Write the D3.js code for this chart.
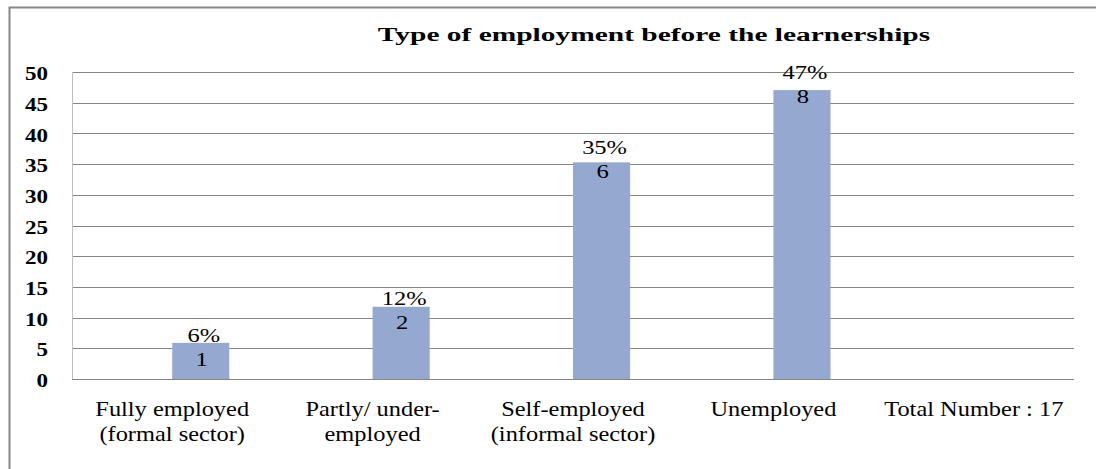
<!DOCTYPE html>
<html>
<head>
<meta charset="utf-8">
<script src="https://cdn.jsdelivr.net/npm/d3@7"></script>
<style>
  body { margin: 0; background: #fff; }
</style>
</head>
<body>
<div class="canva"></div>
<script>
// data
const categories = ["Fully employed\n(formal sector)", "Partly/ under-\nemployed", "Self-employed\n(informal sector)", "Unemployed", "Total Number : 17"];
const percentages = [5.88, 11.76, 35.29, 47.06, null];
const counts = [1, 2, 6, 8, null];
const yTickValues = [0, 5, 10, 15, 20, 25, 30, 35, 40, 45, 50];
const title = "Type of employment before the learnerships";

const width = 1096, height = 469;
const margin = {top: 72, right: 22, bottom: 90, left: 72};
const font = "'Liberation Serif', 'Tinos', 'DejaVu Serif'";

const svg = d3.select(".canva").append("svg")
    .attr("width", width)
    .attr("height", height)
    .style("font-family", font);

// the source picture is stretched sideways, so text is widened with scale(sx,1)
const stretch = (sx) => (d) => `scale(${sx},1)`;

// outer frame (right and bottom edges fall outside the picture)
svg.append("rect")
    .attr("x", 9.5).attr("y", 7.5)
    .attr("width", width + 10).attr("height", height + 10)
    .attr("fill", "none")
    .attr("stroke", "#868686")
    .attr("stroke-width", 2);

const x = d3.scaleBand()
    .domain(categories)
    .range([margin.left, width - margin.right]);

const y = d3.scaleLinear()
    .domain([0, 50])
    .range([height - margin.bottom, margin.top]);

// labels in the original sit on a slightly steeper scale than the bars
const yLabel = d3.scaleLinear()
    .domain([0, 50])
    .range([380, 60]);

const barW = x.bandwidth() * 0.285;

// gridlines
svg.append("g")
    .selectAll("line")
    .data(yTickValues)
    .join("line")
    .attr("x1", margin.left).attr("x2", width - margin.right)
    .attr("y1", d => Math.round(y(d)) + 0.5)
    .attr("y2", d => Math.round(y(d)) + 0.5)
    .attr("stroke", "#868686");

// y axis line
svg.append("line")
    .attr("x1", margin.left + 0.5).attr("x2", margin.left + 0.5)
    .attr("y1", y(50)).attr("y2", y(0))
    .attr("stroke", "#bfbfbf");

// y tick labels
svg.append("g")
    .selectAll("g")
    .data(yTickValues)
    .join("g")
    .attr("transform", d => `translate(48,${y(d)})`)
    .append("text")
    .attr("transform", stretch(1.28))
    .attr("dy", "0.45em")
    .attr("text-anchor", "end")
    .style("font-size", "18px")
    .style("font-weight", "bold")
    .text(d => d);

const rows = categories.map((c, i) => ({cat: c, pct: percentages[i], n: counts[i]}))
    .filter(d => d.pct != null);
const labelX = d => x(d.cat) + x.bandwidth() / 2 + barW / 2 + 1;

// bars
svg.append("g")
    .selectAll("rect")
    .data(rows)
    .join("rect")
    .attr("x", d => x(d.cat) + x.bandwidth() / 2)
    .attr("y", d => y(d.pct))
    .attr("width", barW)
    .attr("height", d => y(0) - y(d.pct))
    .attr("fill", "#95a9d0");

// percentage labels
svg.append("g")
    .selectAll("g")
    .data(rows)
    .join("g")
    .attr("transform", d => `translate(${labelX(d) + 2},${yLabel(d.pct)})`)
    .append("text")
    .attr("transform", stretch(1.36))
    .attr("text-anchor", "middle")
    .style("font-size", "18px")
    .text(d => Math.round(d.pct) + "%");

// count labels
svg.append("g")
    .selectAll("g")
    .data(rows)
    .join("g")
    .attr("transform", d => `translate(${labelX(d)},${yLabel(d.pct) + 24})`)
    .append("text")
    .attr("transform", stretch(1.3))
    .attr("text-anchor", "middle")
    .style("font-size", "19px")
    .text(d => d.n);

// category labels
const catLabels = svg.append("g")
    .selectAll("g")
    .data(categories)
    .join("g")
    .attr("transform", d => `translate(${x(d) + x.bandwidth() / 2},416)`)
    .append("text")
    .attr("transform", stretch(1.22))
    .attr("text-anchor", "middle")
    .style("font-size", "20px");

catLabels.selectAll("tspan")
    .data(d => d.split("\n"))
    .join("tspan")
    .attr("x", 0)
    .attr("dy", (d, i) => i === 0 ? 0 : 25)
    .text(d => d);

// title
svg.append("g")
    .attr("transform", "translate(654,41)")
    .append("text")
    .attr("transform", stretch(1.55))
    .attr("text-anchor", "middle")
    .style("font-size", "19px")
    .style("font-weight", "bold")
    .text(title);
</script>
</body>
</html>
